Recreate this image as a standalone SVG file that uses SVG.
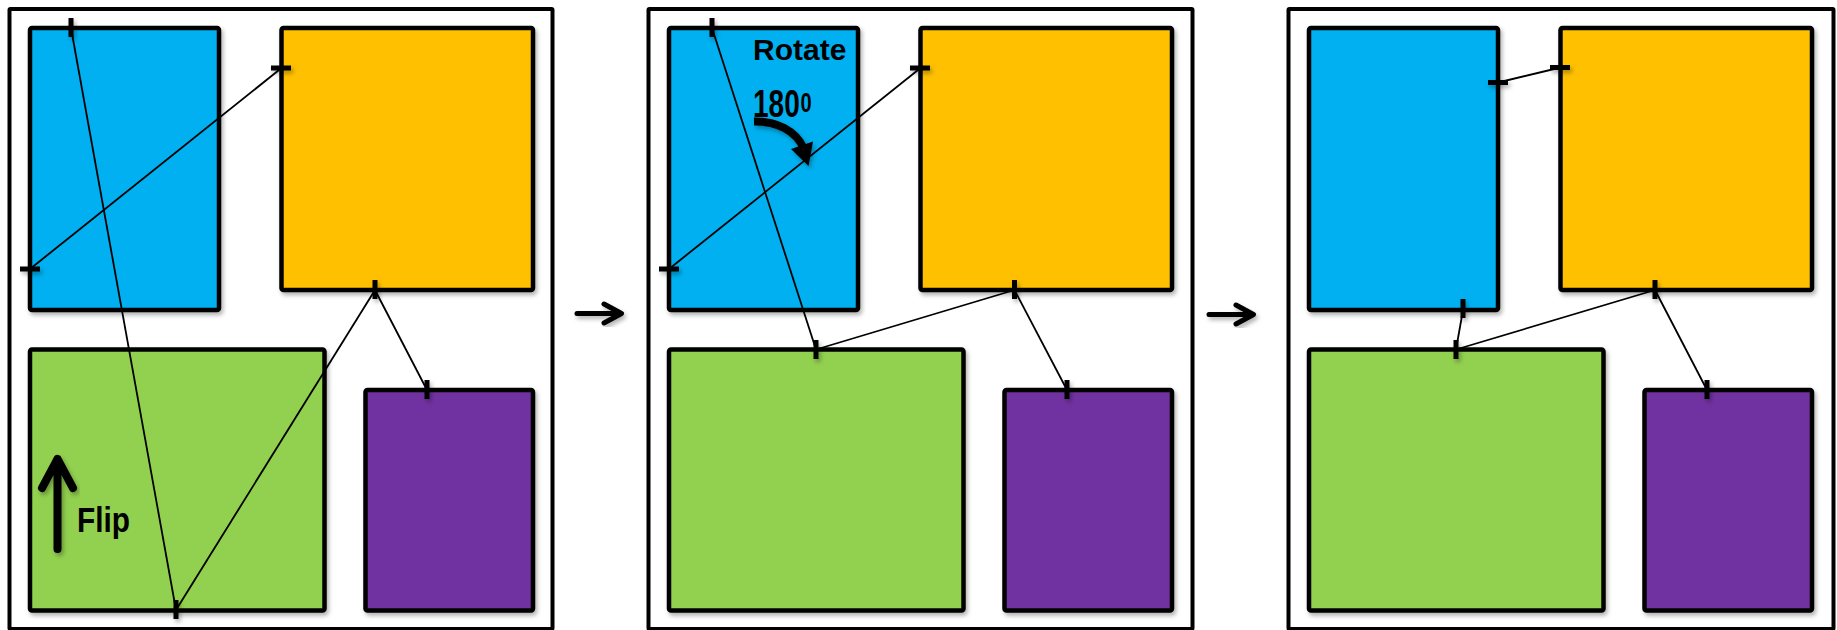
<svg xmlns="http://www.w3.org/2000/svg" width="1837" height="630" viewBox="0 0 1837 630">
<defs>
<filter id="sh" x="-20%" y="-20%" width="140%" height="140%">
<feDropShadow dx="2" dy="3" stdDeviation="2" flood-color="#000" flood-opacity="0.3"/>
</filter>
<style>
.frame{fill:#fff;stroke:#000;stroke-width:4}
.box{stroke:#000;stroke-width:4.5;filter:url(#sh)}
.blue{fill:#00B0F0}.orange{fill:#FFC000}.green{fill:#92D050}.purple{fill:#7030A0}
.ln{stroke:#000;stroke-width:1.8;fill:none}
.tk{stroke:#000;stroke-width:5;fill:none;filter:url(#sh)}
.arr{stroke:#000;stroke-width:5;fill:none;stroke-linecap:round;stroke-linejoin:round;filter:url(#sh)}
.lbl{font-family:"Liberation Sans",Arial,sans-serif;font-weight:bold;fill:#000}
</style>
</defs>
<g id="frames">
<rect id="frame1" class="frame" x="9.5" y="9" width="543" height="620" rx="1"/>
<rect id="frame2" class="frame" x="648.5" y="9" width="544" height="620" rx="1"/>
<rect id="frame3" class="frame" x="1288.5" y="9" width="545" height="620" rx="1"/>
</g>
<g id="panel1">
<g id="p1-blue"><rect class="box blue" x="30" y="28" width="189" height="282" rx="2"/></g>
<g id="p1-orange"><rect class="box orange" x="281.5" y="28" width="251.5" height="262" rx="2"/></g>
<g id="p1-green"><rect class="box green" x="30" y="349.5" width="294.5" height="261" rx="2"/></g>
<g id="p1-purple"><rect class="box purple" x="365.5" y="390" width="167.5" height="220.5" rx="2"/></g>
</g>
<g id="panel2">
<g id="p2-blue"><rect class="box blue" x="669" y="28" width="189" height="282" rx="2"/></g>
<g id="p2-orange"><rect class="box orange" x="920.5" y="28" width="251.5" height="262" rx="2"/></g>
<g id="p2-green"><rect class="box green" x="669" y="349.5" width="294.5" height="261" rx="2"/></g>
<g id="p2-purple"><rect class="box purple" x="1004.5" y="390" width="167.5" height="220.5" rx="2"/></g>
</g>
<g id="panel3">
<g id="p3-blue"><rect class="box blue" x="1309" y="28" width="189" height="282" rx="2"/></g>
<g id="p3-orange"><rect class="box orange" x="1560.5" y="28" width="251.5" height="262" rx="2"/></g>
<g id="p3-green"><rect class="box green" x="1309" y="349.5" width="294.5" height="261" rx="2"/></g>
<g id="p3-purple"><rect class="box purple" x="1644.5" y="390" width="167.5" height="220.5" rx="2"/></g>
</g>
<g id="connectors">
<line class="ln" x1="71" y1="28" x2="176" y2="610"/>
<line class="ln" x1="30" y1="269" x2="281.5" y2="68"/>
<line class="ln" x1="375" y1="290" x2="176" y2="610"/>
<line class="ln" x1="375" y1="290" x2="427" y2="390"/>
<line class="ln" x1="712" y1="28" x2="816" y2="349.5"/>
<line class="ln" x1="669" y1="269" x2="920.5" y2="68"/>
<line class="ln" x1="1014.5" y1="290" x2="816" y2="349.5"/>
<line class="ln" x1="1014.5" y1="290" x2="1067" y2="390"/>
<line class="ln" x1="1498" y1="82.5" x2="1560.5" y2="67.5"/>
<line class="ln" x1="1463" y1="310" x2="1456" y2="349.5"/>
<line class="ln" x1="1655" y1="290" x2="1456" y2="349.5"/>
<line class="ln" x1="1655" y1="290" x2="1707" y2="390"/>
</g>
<g id="ticks">
<path class="tk" d="M71 18V37M176 600V619M20 269H40M271 68H291M375 280V299M427 380V399"/>
<path class="tk" d="M712 18V37M816 340V359M659 269H679M910 68H930M1014.5 280V299M1067 380V399"/>
<path class="tk" d="M1488 82.5H1508M1550 67.5H1570M1463 299V318M1456 340V359M1655 280V299M1707 380V399"/>
</g>
<g id="flip-label">
<path class="arr" style="stroke-width:8" d="M57.5 549V459M42 488L57.5 459L73 488"/>
<text class="lbl" x="77" y="531.5" font-size="35" textLength="53" lengthAdjust="spacingAndGlyphs">Flip</text>
</g>
<g id="rotate-label">
<text class="lbl" x="753" y="60" font-size="30">Rotate</text>
<text class="lbl" transform="translate(753,116.5) scale(0.72,1)" font-size="39">180<tspan font-size="28" dx="1" dy="-5">0</tspan></text>
<path d="M754 121.5C776 121 796 130 804 149" stroke="#000" stroke-width="8" fill="none" filter="url(#sh)"/>
<polygon points="791,149 813,141.5 808.5,166" fill="#000" filter="url(#sh)"/>
</g>
<g id="step-arrows">
<path class="arr" d="M577 313.5H620M604 304L621.5 313.5L604 323"/>
<path class="arr" d="M1209 314.5H1252M1236 305L1253.5 314.5L1236 324"/>
</g>
</svg>
